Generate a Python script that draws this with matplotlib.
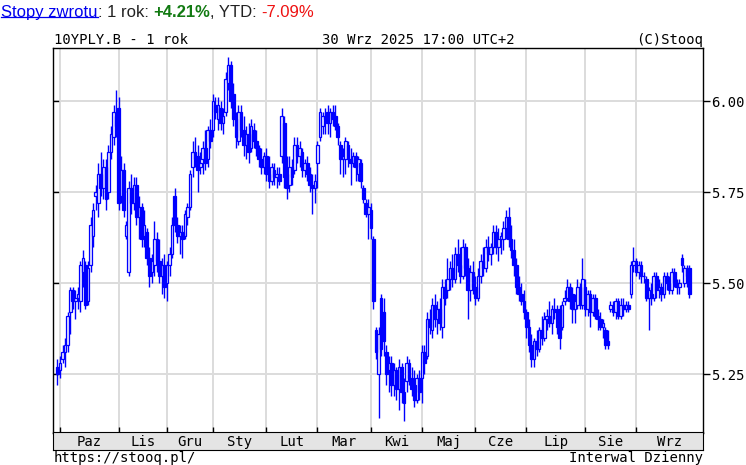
import numpy as np
import pandas as pd
import matplotlib
matplotlib.use("Agg")
import matplotlib.pyplot as plt
from matplotlib.lines import Line2D

MONO = "DejaVu Sans Mono"
SANS = "Liberation Sans"
BLUE = "#0000ff"
GRID = "#dcdcdc"

# daily candles (open, high, low, close), one list per month
sep24 = [(5.27, 5.29, 5.22, 5.25)]
oct24 = [
    (5.26, 5.30, 5.24, 5.28), (5.29, 5.33, 5.28, 5.31), (5.31, 5.35, 5.27, 5.33), (5.33, 5.42, 5.31, 5.41),
    (5.42, 5.49, 5.36, 5.48), (5.48, 5.49, 5.43, 5.45), (5.45, 5.48, 5.40, 5.46), (5.46, 5.49, 5.43, 5.47),
    (5.45, 5.56, 5.42, 5.55), (5.53, 5.59, 5.49, 5.57), (5.55, 5.56, 5.43, 5.44), (5.45, 5.56, 5.44, 5.54),
    (5.55, 5.68, 5.53, 5.66), (5.63, 5.72, 5.60, 5.70), (5.74, 5.77, 5.70, 5.75), (5.72, 5.83, 5.68, 5.80),
    (5.80, 5.86, 5.74, 5.76), (5.76, 5.84, 5.73, 5.82), (5.82, 5.84, 5.70, 5.73), (5.75, 5.88, 5.73, 5.86),
    (5.86, 5.93, 5.84, 5.91), (5.90, 5.99, 5.88, 5.97), (5.96, 6.03, 5.90, 5.93),
]
nov24 = [
    (5.98, 6.01, 5.70, 5.72), (5.74, 5.85, 5.72, 5.81), (5.81, 5.83, 5.68, 5.70), (5.63, 5.67, 5.62, 5.66),
    (5.53, 5.78, 5.52, 5.76), (5.76, 5.80, 5.69, 5.72), (5.72, 5.79, 5.70, 5.77), (5.77, 5.79, 5.66, 5.68),
    (5.68, 5.74, 5.62, 5.71), (5.71, 5.72, 5.60, 5.62), (5.63, 5.70, 5.60, 5.66), (5.64, 5.65, 5.55, 5.57),
    (5.57, 5.60, 5.49, 5.52), (5.53, 5.58, 5.50, 5.56), (5.55, 5.67, 5.52, 5.62), (5.62, 5.64, 5.53, 5.56),
    (5.56, 5.62, 5.50, 5.52), (5.52, 5.57, 5.47, 5.55), (5.55, 5.58, 5.46, 5.49),
]
dec24 = [
    (5.50, 5.56, 5.45, 5.55), (5.55, 5.60, 5.52, 5.58), (5.58, 5.68, 5.57, 5.66), (5.74, 5.76, 5.64, 5.66),
    (5.66, 5.68, 5.61, 5.63), (5.63, 5.66, 5.58, 5.64), (5.64, 5.66, 5.57, 5.62), (5.63, 5.70, 5.62, 5.69),
    (5.68, 5.72, 5.66, 5.71), (5.71, 5.81, 5.70, 5.80), (5.82, 5.89, 5.79, 5.86), (5.86, 5.90, 5.82, 5.84),
    (5.85, 5.88, 5.75, 5.81), (5.82, 5.86, 5.80, 5.83), (5.84, 5.89, 5.80, 5.87), (5.87, 5.92, 5.81, 5.83),
    (5.84, 5.93, 5.82, 5.92), (5.92, 5.95, 5.87, 5.89),
]
jan25 = [
    (5.92, 6.02, 5.90, 6.00), (5.99, 6.01, 5.95, 5.97), (5.95, 6.01, 5.92, 5.99), (5.98, 6.00, 5.92, 5.94),
    (5.94, 5.98, 5.91, 5.96), (5.97, 6.08, 5.96, 6.06), (6.05, 6.12, 6.03, 6.10), (6.10, 6.11, 5.98, 6.00),
    (6.02, 6.05, 5.93, 5.95), (5.95, 5.97, 5.87, 5.90), (5.89, 5.99, 5.88, 5.97), (5.97, 5.99, 5.90, 5.92),
    (5.92, 5.96, 5.85, 5.88), (5.88, 5.93, 5.84, 5.91), (5.91, 5.94, 5.83, 5.86), (5.87, 5.95, 5.86, 5.93),
    (5.92, 5.94, 5.87, 5.89), (5.89, 5.92, 5.85, 5.87), (5.87, 5.88, 5.82, 5.84), (5.84, 5.87, 5.80, 5.82),
    (5.82, 5.86, 5.80, 5.85),
]
feb25 = [
    (5.85, 5.87, 5.78, 5.80), (5.80, 5.85, 5.76, 5.78), (5.78, 5.83, 5.77, 5.82), (5.81, 5.83, 5.77, 5.79),
    (5.79, 5.82, 5.76, 5.80), (5.80, 5.82, 5.77, 5.78), (5.85, 5.98, 5.83, 5.96), (5.94, 5.96, 5.76, 5.79),
    (5.80, 5.85, 5.73, 5.76), (5.77, 5.85, 5.75, 5.82), (5.82, 5.84, 5.77, 5.79), (5.81, 5.90, 5.80, 5.88),
    (5.88, 5.90, 5.83, 5.85), (5.85, 5.89, 5.82, 5.87), (5.86, 5.87, 5.79, 5.81), (5.81, 5.84, 5.79, 5.83),
    (5.83, 5.85, 5.78, 5.80), (5.80, 5.82, 5.75, 5.77), (5.77, 5.80, 5.69, 5.76), (5.76, 5.80, 5.72, 5.78),
]
mar25 = [
    (5.83, 5.89, 5.76, 5.88), (5.90, 5.98, 5.89, 5.97), (5.93, 5.97, 5.91, 5.96), (5.96, 5.98, 5.91, 5.95),
    (5.97, 5.99, 5.91, 5.94), (5.94, 5.98, 5.90, 5.97), (5.97, 5.99, 5.93, 5.95), (5.96, 5.99, 5.92, 5.93),
    (5.93, 5.94, 5.88, 5.90), (5.88, 5.89, 5.80, 5.84), (5.84, 5.87, 5.79, 5.85), (5.84, 5.90, 5.80, 5.89),
    (5.88, 5.89, 5.82, 5.84), (5.84, 5.87, 5.77, 5.83), (5.83, 5.86, 5.82, 5.85), (5.85, 5.86, 5.78, 5.82),
    (5.80, 5.85, 5.78, 5.84), (5.83, 5.84, 5.76, 5.78), (5.76, 5.77, 5.72, 5.73), (5.72, 5.73, 5.68, 5.69),
    (5.69, 5.73, 5.62, 5.71),
]
apr25 = [
    (5.70, 5.72, 5.62, 5.65), (5.62, 5.63, 5.43, 5.45), (5.37, 5.38, 5.29, 5.31), (5.25, 5.38, 5.13, 5.36),
    (5.46, 5.47, 5.30, 5.32), (5.42, 5.46, 5.30, 5.34), (5.31, 5.33, 5.22, 5.25), (5.26, 5.30, 5.20, 5.28),
    (5.28, 5.30, 5.19, 5.22), (5.22, 5.28, 5.19, 5.26), (5.26, 5.27, 5.18, 5.21), (5.21, 5.29, 5.15, 5.27),
    (5.27, 5.28, 5.17, 5.20), (5.20, 5.24, 5.12, 5.17), (5.23, 5.30, 5.20, 5.28), (5.28, 5.29, 5.22, 5.24),
    (5.24, 5.27, 5.19, 5.21), (5.22, 5.26, 5.16, 5.18), (5.18, 5.25, 5.17, 5.24), (5.24, 5.26, 5.18, 5.20),
]
may25 = [
    (5.24, 5.33, 5.17, 5.31), (5.31, 5.33, 5.25, 5.28), (5.30, 5.42, 5.29, 5.40), (5.40, 5.43, 5.36, 5.38),
    (5.37, 5.46, 5.35, 5.44), (5.44, 5.47, 5.38, 5.40), (5.40, 5.45, 5.36, 5.43), (5.43, 5.46, 5.37, 5.39),
    (5.38, 5.51, 5.35, 5.49), (5.49, 5.51, 5.44, 5.46), (5.48, 5.57, 5.46, 5.51), (5.51, 5.56, 5.48, 5.54),
    (5.54, 5.58, 5.49, 5.51), (5.51, 5.60, 5.50, 5.58), (5.58, 5.62, 5.53, 5.55), (5.55, 5.60, 5.50, 5.52),
    (5.52, 5.62, 5.51, 5.60), (5.60, 5.61, 5.52, 5.54), (5.54, 5.57, 5.40, 5.48), (5.48, 5.55, 5.45, 5.53),
    (5.53, 5.56, 5.47, 5.49),
]
jun25 = [
    (5.49, 5.52, 5.44, 5.46), (5.46, 5.54, 5.45, 5.52), (5.52, 5.58, 5.50, 5.56), (5.56, 5.60, 5.52, 5.54),
    (5.54, 5.62, 5.53, 5.60), (5.60, 5.63, 5.56, 5.58), (5.58, 5.61, 5.55, 5.60), (5.60, 5.66, 5.58, 5.64),
    (5.64, 5.66, 5.58, 5.60), (5.60, 5.65, 5.56, 5.62), (5.62, 5.64, 5.58, 5.63), (5.62, 5.67, 5.59, 5.65),
    (5.65, 5.70, 5.62, 5.68), (5.68, 5.71, 5.60, 5.62), (5.62, 5.66, 5.57, 5.59), (5.59, 5.62, 5.52, 5.55),
    (5.55, 5.57, 5.47, 5.49), (5.49, 5.52, 5.45, 5.47), (5.47, 5.50, 5.44, 5.45), (5.45, 5.48, 5.40, 5.42),
]
jul25 = [
    (5.42, 5.43, 5.35, 5.38), (5.38, 5.40, 5.31, 5.33), (5.33, 5.36, 5.27, 5.29), (5.29, 5.35, 5.27, 5.34),
    (5.34, 5.37, 5.30, 5.32), (5.32, 5.38, 5.31, 5.37), (5.37, 5.41, 5.33, 5.35), (5.35, 5.42, 5.34, 5.40),
    (5.40, 5.43, 5.37, 5.41), (5.41, 5.45, 5.38, 5.39), (5.39, 5.44, 5.36, 5.43), (5.43, 5.46, 5.40, 5.42),
    (5.42, 5.44, 5.36, 5.38), (5.43, 5.44, 5.32, 5.35), (5.38, 5.45, 5.37, 5.44), (5.45, 5.48, 5.44, 5.46),
    (5.46, 5.51, 5.45, 5.49), (5.49, 5.50, 5.43, 5.45), (5.47, 5.49, 5.39, 5.43), (5.43, 5.47, 5.39, 5.45),
    (5.44, 5.51, 5.43, 5.49), (5.49, 5.50, 5.43, 5.44), (5.44, 5.57, 5.43, 5.51),
]
aug25 = [
    (5.49, 5.51, 5.41, 5.43), (5.43, 5.48, 5.41, 5.47), (5.47, 5.48, 5.38, 5.42), (5.42, 5.47, 5.41, 5.46),
    (5.46, 5.47, 5.40, 5.41), (5.41, 5.43, 5.37, 5.40), (5.40, 5.42, 5.37, 5.38), (5.38, 5.40, 5.35, 5.39),
    (5.37, 5.38, 5.32, 5.33), (5.34, 5.37, 5.32, 5.33), (5.43, 5.45, 5.42, 5.44), (5.43, 5.45, 5.41, 5.42),
    (5.42, 5.46, 5.40, 5.45), (5.45, 5.46, 5.40, 5.41), (5.41, 5.46, 5.40, 5.44), (5.44, 5.46, 5.41, 5.43),
    (5.43, 5.45, 5.42, 5.44), (5.44, 5.45, 5.42, 5.43), (5.47, 5.56, 5.46, 5.55), (5.55, 5.60, 5.53, 5.56),
]
sep25 = [
    (5.56, 5.57, 5.52, 5.53), (5.53, 5.56, 5.51, 5.55), (5.55, 5.56, 5.50, 5.52), (5.52, 5.53, 5.50, 5.52),
    (5.51, 5.52, 5.45, 5.46), (5.46, 5.49, 5.37, 5.48), (5.47, 5.50, 5.44, 5.46), (5.46, 5.53, 5.45, 5.52),
    (5.52, 5.53, 5.46, 5.48), (5.48, 5.51, 5.46, 5.49), (5.49, 5.50, 5.45, 5.47), (5.47, 5.53, 5.46, 5.52),
    (5.52, 5.53, 5.48, 5.50), (5.50, 5.52, 5.47, 5.48), (5.48, 5.54, 5.47, 5.53), (5.53, 5.54, 5.49, 5.50),
    (5.50, 5.51, 5.47, 5.49), (5.49, 5.51, 5.47, 5.50), (5.57, 5.58, 5.53, 5.55), (5.50, 5.55, 5.49, 5.54),
    (5.54, 5.55, 5.49, 5.52), (5.54, 5.55, 5.46, 5.47),
]
# non-trading weekdays in the period
holidays = ["2024-11-01", "2024-11-11", "2024-12-24", "2024-12-25", "2024-12-26", "2024-12-31",
            "2025-01-01", "2025-01-06", "2025-04-18", "2025-04-21", "2025-05-01", "2025-06-19",
            "2025-08-15"]
month_names = ["Paz", "Lis", "Gru", "Sty", "Lut", "Mar", "Kwi", "Maj", "Cze", "Lip", "Sie", "Wrz"]
price_ticks = [5.25, 5.50, 5.75, 6.00]

rows = sep24 + oct24 + nov24 + dec24 + jan25 + feb25 + mar25 + apr25 + may25 + jun25 + jul25 + aug25 + sep25
o, h, l, c = np.array(rows).T
dates = pd.bdate_range("2024-09-30", "2025-09-30")
dates = dates[~dates.isin(pd.to_datetime(holidays))]
assert len(dates) == len(rows)
x = np.arange(len(rows))
starts = [i for i in range(1, len(dates)) if dates[i].month != dates[i - 1].month]

W, H = 746, 465
fig = plt.figure(figsize=(W / 100, H / 100), dpi=100)
ax = fig.add_axes([53 / W, 32 / H, 650 / W, 385 / H])
xlim = (-1.75, 253.3)
ax.set_xlim(*xlim)
ax.set_ylim(5.088, 6.1456)

for v in price_ticks:
    ax.axhline(v, color=GRID, lw=1.4, zorder=0)
for s in starts:
    ax.axvline(s, color=GRID, lw=1.4, zorder=0)

ax.vlines(x, l, h, color=BLUE, lw=1.0, zorder=2)
up = c >= o
ax.bar(x[up], (c - o)[up], bottom=o[up], width=1.05, facecolor="#e8e8ff", edgecolor=BLUE, lw=0.9, zorder=3)
ax.bar(x[~up], (o - c)[~up], bottom=c[~up], width=1.05, facecolor=BLUE, edgecolor=BLUE, lw=0.9, zorder=3)

ax.set_yticks(price_ticks)
ax.set_yticklabels([f"{v:.2f}" for v in price_ticks], family=MONO, fontsize=10)
ax.yaxis.tick_right()
ax.tick_params(axis="y", direction="out", length=5, width=1, pad=1)
ax.set_xticks(starts)
ax.set_xticklabels([])
ax.tick_params(axis="x", direction="in", length=4, width=1)
for v in price_ticks:  # short inward ticks on the left border
    ax.add_line(Line2D([0, 5 / 650], [v, v], transform=ax.get_yaxis_transform(), color="black", lw=1))
for sp in ax.spines.values():
    sp.set_linewidth(1)

# month band
bax = fig.add_axes([53 / W, 15 / H, 650 / W, 18 / H], facecolor="#e4e4e4")
bax.set_xlim(*xlim); bax.set_ylim(0, 1)
bax.set_xticks([]); bax.set_yticks([])
edges = starts + [xlim[1]]
for name, a, b in zip(month_names, edges[:-1], edges[1:]):
    bax.text((a + b) / 2, 0.45, name, ha="center", va="center", family=MONO, fontsize=10)

# header / footer
fig.text(54 / W, 1 - 44 / H, "10YPLY.B - 1 rok", family=MONO, fontsize=10, va="baseline")
fig.text(418 / W, 1 - 44 / H, "30 Wrz 2025 17:00 UTC+2", family=MONO, fontsize=10, va="baseline", ha="center")
fig.text(703 / W, 1 - 44 / H, "(C)Stooq", family=MONO, fontsize=10, va="baseline", ha="right")
fig.text(54 / W, 1 - 462 / H, "https://stooq.pl/", family=MONO, fontsize=10, va="baseline")
fig.text(703 / W, 1 - 462 / H, "Interwal Dzienny", family=MONO, fontsize=10, va="baseline", ha="right")

# return line: pieces chained left to right
t0 = fig.text(1 / W, 1 - 17 / H, "Stopy zwrotu", color="#0000ee", family=SANS, fontsize=12, va="baseline")
last = t0
for s, col, wt in [(": 1 rok: ", "#222222", "normal"), ("+4.21%", "#127a12", "bold"),
                   (", YTD: ", "#222222", "normal"), ("-7.09%", "#ee1111", "normal")]:
    last = plt.annotate(s, xy=(1, 0), xycoords=last, va="bottom", ha="left", color=col,
                        fontweight=wt, family=SANS, fontsize=12, annotation_clip=False)

fig.canvas.draw()
bb = t0.get_window_extent()
yl = (bb.y0 + 3) / fig.bbox.height
fig.add_artist(Line2D([bb.x0 / fig.bbox.width, bb.x1 / fig.bbox.width], [yl, yl],
                      transform=fig.transFigure, color="#0000ee", lw=0.9))

fig.savefig("out.png", dpi=100)
